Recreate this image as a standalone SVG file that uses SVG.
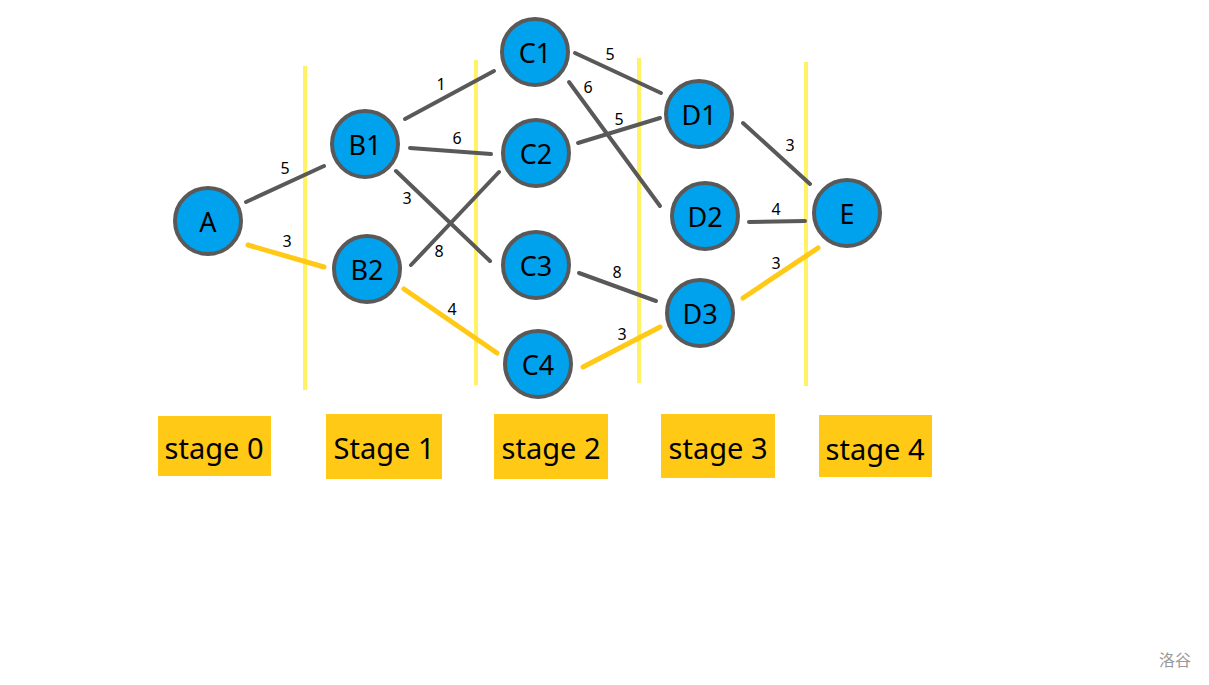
<svg xmlns="http://www.w3.org/2000/svg" width="1209" height="685" viewBox="0 0 1209 685">
<style>
.node circle{fill:#00A2EE;stroke:#595959;stroke-width:4}
.node text{font-family:"Noto Sans","Open Sans",sans-serif;font-size:27px;fill:#000;text-anchor:middle;dominant-baseline:central}
.e{stroke:#595959;stroke-width:4;stroke-linecap:round;fill:none}
.y{stroke:#FFC916;stroke-width:5;stroke-linecap:round;fill:none}
.sep{stroke:#FFF04A;stroke-width:4;opacity:0.85}
.w{font-family:"Noto Sans","Open Sans",sans-serif;font-size:16px;fill:#000;text-anchor:middle}
.stage rect{fill:#FFC916}
.stage text{font-family:"Noto Sans","Open Sans",sans-serif;font-size:29px;fill:#000;text-anchor:middle}
</style>
<rect width="1209" height="685" fill="#fff"/>
<g id="separators">
<line class="sep" x1="305" y1="66" x2="305" y2="390"/>
<line class="sep" x1="476" y1="60" x2="476" y2="385"/>
<line class="sep" x1="639" y1="58" x2="639" y2="383"/>
<line class="sep" x1="806" y1="62" x2="806" y2="386"/>
</g>
<g id="connectors">
<line class="e" x1="246" y1="202" x2="324" y2="166"/>
<line class="y" x1="248" y1="245" x2="324" y2="267"/>
<line class="e" x1="405" y1="119" x2="494" y2="71"/>
<line class="e" x1="410" y1="148" x2="491" y2="154"/>
<line class="e" x1="396" y1="171" x2="490" y2="261"/>
<line class="e" x1="411" y1="265" x2="499" y2="172"/>
<line class="y" x1="404" y1="289" x2="497" y2="353"/>
<line class="e" x1="575" y1="53" x2="661" y2="93"/>
<line class="e" x1="569" y1="82" x2="660" y2="206"/>
<line class="e" x1="578" y1="143" x2="660" y2="118"/>
<line class="e" x1="579" y1="273" x2="656" y2="301"/>
<line class="y" x1="583" y1="367" x2="660" y2="327"/>
<line class="e" x1="743" y1="123" x2="810" y2="184"/>
<line class="e" x1="749" y1="222" x2="805" y2="221"/>
<line class="y" x1="743" y1="298" x2="818" y2="248"/>
<text class="w" x="285" y="174">5</text>
<text class="w" x="287" y="247">3</text>
<text class="w" x="441" y="90">1</text>
<text class="w" x="457" y="144">6</text>
<text class="w" x="407" y="204">3</text>
<text class="w" x="439" y="257">8</text>
<text class="w" x="452" y="315">4</text>
<text class="w" x="610" y="60">5</text>
<text class="w" x="588" y="93">6</text>
<text class="w" x="619" y="125">5</text>
<text class="w" x="617" y="278">8</text>
<text class="w" x="622" y="340">3</text>
<text class="w" x="790" y="151">3</text>
<text class="w" x="776" y="215">4</text>
<text class="w" x="776" y="269">3</text>
</g>
<g id="A" class="node"><circle cx="208" cy="221" r="33"/><text x="208" y="221">A</text></g>
<g id="B1" class="node"><circle cx="365" cy="144" r="33"/><text x="365" y="144">B1</text></g>
<g id="B2" class="node"><circle cx="367" cy="269" r="33"/><text x="367" y="269">B2</text></g>
<g id="C1" class="node"><circle cx="535" cy="52" r="33"/><text x="535" y="52">C1</text></g>
<g id="C2" class="node"><circle cx="536" cy="153" r="33"/><text x="536" y="153">C2</text></g>
<g id="C3" class="node"><circle cx="536" cy="265" r="33"/><text x="536" y="265">C3</text></g>
<g id="C4" class="node"><circle cx="538" cy="364" r="33"/><text x="538" y="364">C4</text></g>
<g id="D1" class="node"><circle cx="699" cy="114" r="33"/><text x="699" y="114">D1</text></g>
<g id="D2" class="node"><circle cx="705" cy="216" r="33"/><text x="705" y="216">D2</text></g>
<g id="D3" class="node"><circle cx="700" cy="313" r="33"/><text x="700" y="313">D3</text></g>
<g id="E" class="node"><circle cx="847" cy="213" r="33"/><text x="847" y="213">E</text></g>
<g id="stage0" class="stage"><rect x="158" y="416" width="113" height="60"/><text x="214" y="459">stage 0</text></g>
<g id="stage1" class="stage"><rect x="326" y="414" width="116" height="65"/><text x="384" y="459">Stage 1</text></g>
<g id="stage2" class="stage"><rect x="494" y="414" width="114" height="65"/><text x="551" y="459">stage 2</text></g>
<g id="stage3" class="stage"><rect x="661" y="414" width="114" height="64"/><text x="718" y="459">stage 3</text></g>
<g id="stage4" class="stage"><rect x="819" y="415" width="113" height="62"/><text x="875" y="460">stage 4</text></g>
<text x="1175" y="666" style="font-family:'Noto Sans CJK SC',sans-serif;font-size:16px;fill:#999;text-anchor:middle">洛谷</text>
</svg>
